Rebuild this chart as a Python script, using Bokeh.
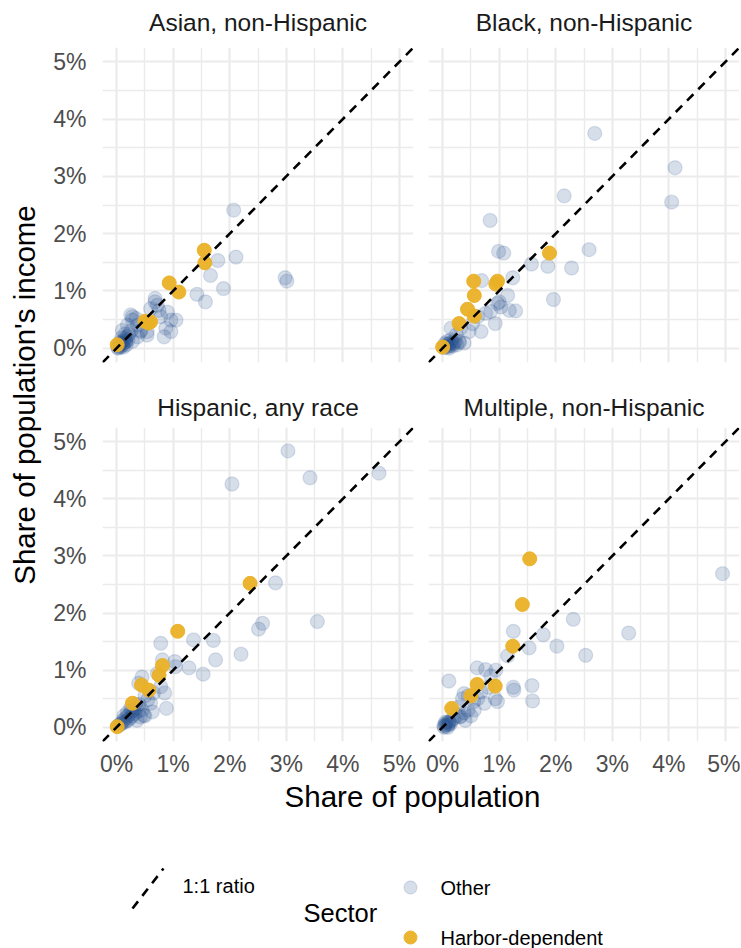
import math
from bokeh.plotting import figure
from bokeh.layouts import row, column
from bokeh.models import Range1d, FixedTicker, Slope
from bokeh.core.properties import value
from bokeh.embed import file_html
from bokeh.resources import INLINE

# ---------------- data (share of population %, share of income %) ----------------
panel_titles = ["Asian, non-Hispanic", "Black, non-Hispanic",
                "Hispanic, any race", "Multiple, non-Hispanic"]

asian_other_x = [0.02, 0.04, 0.05, 0.07, 0.08, 0.10, 0.11, 0.13, 0.14, 0.16, 0.18, 0.06, 0.12, 0.20,
                 0.22, 0.09, 0.03, 0.17, 0.25, 0.15, 0.19, 0.10, 0.28, 0.25, 0.37, 0.43, 0.37, 0.16,
                 0.28, 0.54, 0.28, 0.34, 0.42, 0.54, 0.60, 0.68, 0.72, 0.75, 0.78, 0.90, 0.96, 1.05,
                 0.87, 0.96, 0.84, 0.68, 1.42, 1.57, 1.66, 1.79, 1.89, 2.07, 2.11, 2.98, 3.01]
asian_other_y = [0.01, 0.03, 0.06, 0.02, 0.08, 0.05, 0.12, 0.09, 0.16, 0.11, 0.20, 0.10, 0.02, 0.14,
                 0.24, 0.18, 0.00, 0.06, 0.30, 0.25, 0.40, 0.31, 0.49, 0.58, 0.40, 0.31, 0.20, 0.14,
                 0.12, 0.23, 0.55, 0.52, 0.29, 0.29, 0.69, 0.81, 0.75, 0.66, 0.55, 0.63, 0.49, 0.49,
                 0.35, 0.29, 0.20, 0.87, 0.94, 0.81, 1.27, 1.53, 1.04, 2.41, 1.59, 1.23, 1.17]
asian_harbor_x = [0.01, 0.50, 0.56, 0.60, 0.93, 1.10, 1.55, 1.56]
asian_harbor_y = [0.06, 0.47, 0.44, 0.46, 1.14, 0.98, 1.71, 1.49]

black_other_x = [0.02, 0.05, 0.07, 0.09, 0.10, 0.12, 0.14, 0.16, 0.18, 0.20, 0.08, 0.22, 0.25, 0.04,
                 0.15, 0.30, 0.11, 0.15, 0.38, 0.29, 0.24, 0.32, 0.68, 0.93, 0.62, 0.76, 0.97, 1.03,
                 1.18, 1.29, 1.15, 1.00, 0.85, 0.47, 0.53, 0.69, 1.24, 0.99, 1.08, 0.84, 1.57, 1.86,
                 2.28, 1.96, 2.59, 2.15, 2.69, 4.11, 4.05]
black_other_y = [0.01, 0.04, 0.02, 0.07, 0.03, 0.08, 0.05, 0.10, 0.04, 0.08, 0.12, 0.12, 0.06, 0.08,
                 0.15, 0.10, 0.00, 0.35, 0.09, 0.12, 0.23, 0.35, 0.29, 0.43, 0.55, 0.61, 0.78, 0.72,
                 0.66, 0.65, 0.92, 0.81, 0.64, 0.29, 0.43, 1.18, 1.23, 1.69, 1.66, 2.23, 1.47, 1.43,
                 1.40, 0.85, 1.72, 2.66, 3.75, 3.15, 2.55]
black_harbor_x = [0.00, 0.29, 0.44, 0.56, 0.56, 0.55, 0.97, 0.94, 1.89]
black_harbor_y = [0.02, 0.43, 0.68, 0.56, 0.92, 1.17, 1.17, 1.12, 1.66]

hisp_other_x = [0.02, 0.05, 0.08, 0.10, 0.12, 0.14, 0.16, 0.18, 0.20, 0.22, 0.24, 0.26, 0.28, 0.30,
                0.32, 0.35, 0.38, 0.40, 0.13, 0.19, 0.25, 0.33, 0.45, 0.50, 0.42, 0.36, 0.48, 0.63,
                0.60, 0.78, 0.85, 0.88, 0.72, 0.45, 0.39, 0.50, 0.55, 0.65, 0.78, 0.81, 1.03, 1.04,
                1.28, 1.36, 1.53, 1.71, 1.75, 2.20, 2.51, 2.58, 2.81, 3.55, 2.04, 3.03, 3.42, 4.64]
hisp_other_y = [0.02, 0.04, 0.06, 0.10, 0.08, 0.14, 0.10, 0.18, 0.12, 0.22, 0.16, 0.28, 0.20, 0.30,
                0.24, 0.34, 0.28, 0.40, 0.20, 0.26, 0.34, 0.40, 0.30, 0.20, 0.18, 0.12, 0.21, 0.27,
                0.42, 0.71, 0.60, 0.33, 0.94, 0.88, 0.77, 0.55, 0.48, 0.60, 1.47, 1.18, 1.15, 1.06,
                1.04, 1.53, 0.93, 1.52, 1.18, 1.28, 1.72, 1.82, 2.53, 1.85, 4.26, 4.84, 4.37, 4.45]
hisp_harbor_x = [0.01, 0.28, 0.44, 0.57, 0.75, 0.81, 1.08, 2.36]
hisp_harbor_y = [0.01, 0.42, 0.74, 0.65, 0.91, 1.08, 1.68, 2.52]

mult_other_x = [0.02, 0.04, 0.06, 0.08, 0.10, 0.12, 0.05, 0.14, 0.03, 0.16, 0.09, 0.11, 0.20, 0.25,
                0.30, 0.32, 0.38, 0.45, 0.56, 0.50, 0.40, 0.28, 0.38, 0.45, 0.35, 0.55, 0.62, 0.74,
                0.93, 0.97, 0.68, 0.80, 0.61, 0.76, 0.94, 0.85, 0.11, 1.25, 1.26, 1.58, 1.59, 1.15,
                1.25, 1.53, 1.78, 2.02, 2.31, 2.53, 3.29, 4.95]
mult_other_y = [0.02, 0.05, 0.03, 0.08, 0.04, 0.10, 0.09, 0.06, 0.00, 0.12, 0.00, 0.07, 0.15, 0.20,
                0.18, 0.19, 0.25, 0.30, 0.30, 0.20, 0.12, 0.35, 0.59, 0.55, 0.50, 0.45, 0.50, 0.42,
                0.50, 0.45, 0.62, 0.70, 1.04, 1.01, 1.00, 0.90, 0.81, 0.70, 0.65, 0.73, 0.46, 1.25,
                1.68, 1.39, 1.62, 1.42, 1.89, 1.26, 1.65, 2.69]
mult_harbor_x = [0.16, 0.50, 0.61, 0.93, 1.24, 1.41, 1.54]
mult_harbor_y = [0.33, 0.55, 0.75, 0.72, 1.42, 2.15, 2.95]

tick_vals = [0, 1, 2, 3, 4, 5]
tick_labels = ["0%", "1%", "2%", "3%", "4%", "5%"]
minor_vals = [0.5, 1.5, 2.5, 3.5, 4.5]
limit_lo, limit_hi = 0.0, 5.0

sector_labels = ["Other", "Harbor-dependent"]
ratio_label = "1:1 ratio"
legend_title = "Sector"
x_title = "Share of population"
y_title = "Share of population's income"

# ---------------- styles ----------------
FONT = "Liberation Sans"
OTHER = "#26508F"
HARBOR = "#EAB127"
GRID = "#EBEBEB"
expand = 0.05 * (limit_hi - limit_lo)
LO, HI = limit_lo - expand, limit_hi + expand
PW, PH = 311, 315
YLAB_W = 48
LEFT_MBL, LEFT_MBR, RIGHT_MBL, RIGHT_MBR = 54, 7, 8, 1
TOP_STRIP, TOP_MBB, BOT_STRIP, BOT_MBB = 47, 26, 39, 37

override = dict(zip(tick_vals, tick_labels))


def blank(w, h):
    f = figure(width=w, height=h, x_range=Range1d(0, w), y_range=Range1d(h, 0),
               output_backend="svg", toolbar_location=None,
               x_axis_location=None, y_axis_location=None,
               min_border_left=0, min_border_right=0, min_border_top=0, min_border_bottom=0)
    f.grid.visible = False
    f.outline_line_color = None
    f.background_fill_color = "white"
    f.border_fill_color = "white"
    return f


def panel(ox, oy, hx, hy, left, bottom):
    mbl = LEFT_MBL if left else RIGHT_MBL
    mbr = LEFT_MBR if left else RIGHT_MBR
    mbb = BOT_MBB if bottom else TOP_MBB
    p = figure(width=mbl + PW + mbr, height=PH + mbb,
               x_range=Range1d(LO, HI), y_range=Range1d(LO, HI),
               output_backend="svg", toolbar_location=None,
               x_axis_location="below" if bottom else None,
               y_axis_location="left" if left else None,
               min_border_left=mbl, min_border_right=mbr,
               min_border_top=0, min_border_bottom=mbb)
    p.outline_line_color = None
    p.background_fill_color = "white"
    p.border_fill_color = "white"

    xt = FixedTicker(ticks=tick_vals, minor_ticks=minor_vals)
    yt = FixedTicker(ticks=tick_vals, minor_ticks=minor_vals)
    p.xgrid.ticker = xt
    p.ygrid.ticker = yt
    for g in (p.xgrid, p.ygrid):
        g.grid_line_color = GRID
        g.grid_line_width = 2.2
        g.minor_grid_line_color = GRID
        g.minor_grid_line_width = 1.4
    axes = []
    if bottom:
        p.xaxis.ticker = xt
        p.xaxis.major_label_standoff = 9
        axes.append(p.xaxis)
    if left:
        p.yaxis.ticker = yt
        p.yaxis.major_label_standoff = 16
        axes.append(p.yaxis)
    for ax in axes:
        ax.major_label_overrides = override
        ax.axis_line_color = None
        ax.major_tick_line_color = None
        ax.minor_tick_line_color = None
        ax.major_tick_out = 0
        ax.major_tick_in = 0
        ax.minor_tick_out = 0
        ax.minor_tick_in = 0
        ax.major_label_text_font = FONT
        ax.major_label_text_font_size = "23px"
        ax.major_label_text_color = "#4D4D4D"

    p.scatter(x=ox, y=oy, size=14, fill_color=OTHER, fill_alpha=0.19,
              line_color=OTHER, line_alpha=0.15, line_width=1.3)
    p.scatter(x=hx, y=hy, size=14, fill_color=HARBOR, fill_alpha=0.95,
              line_color=HARBOR, line_alpha=0.95, line_width=1.0)
    p.add_layout(Slope(gradient=1, y_intercept=0, line_color="black",
                       line_width=2.6, line_dash="9 7"))
    return p


def strip(title, left, h, ty):
    mbl = LEFT_MBL if left else RIGHT_MBL
    mbr = LEFT_MBR if left else RIGHT_MBR
    s = blank(mbl + PW + mbr, h)
    s.text(x=[mbl + PW / 2], y=[ty], text=[title], text_font=value(FONT),
           text_font_size=value("24.5px"), text_color="#1A1A1A",
           text_align="center", text_baseline="middle")
    return s


tl = panel(asian_other_x, asian_other_y, asian_harbor_x, asian_harbor_y, True, False)
tr = panel(black_other_x, black_other_y, black_harbor_x, black_harbor_y, False, False)
bl = panel(hisp_other_x, hisp_other_y, hisp_harbor_x, hisp_harbor_y, True, True)
br = panel(mult_other_x, mult_other_y, mult_harbor_x, mult_harbor_y, False, True)

tl_s = strip(panel_titles[0], True, TOP_STRIP, 22)
tr_s = strip(panel_titles[1], False, TOP_STRIP, 22)
bl_s = strip(panel_titles[2], True, BOT_STRIP, 19)
br_s = strip(panel_titles[3], False, BOT_STRIP, 19)

GRID_H = TOP_STRIP + tl.height + BOT_STRIP + bl.height
TOTAL_W = YLAB_W + tl.width + tr.width

# y-axis title, centred on the panel area
frame_top = TOP_STRIP
frame_bottom = TOP_STRIP + tl.height + BOT_STRIP + PH
ylab = blank(YLAB_W, GRID_H)
ylab.text(x=[24], y=[(frame_top + frame_bottom) / 2], text=[y_title], angle=math.pi / 2,
          text_font=value(FONT), text_font_size=value("29.5px"), text_color="#000000",
          text_align="center", text_baseline="middle")

# bottom: x title + legend
BH = 948 - GRID_H
bot = blank(TOTAL_W, BH)
bot.text(x=[412], y=[17], text=[x_title], text_font=value(FONT),
         text_font_size=value("29.5px"), text_color="#000000",
         text_align="center", text_baseline="middle")
# 1:1 ratio key
bot.line(x=[132, 163], y=[129, 89], line_color="black", line_width=2.6, line_dash="9 7")
bot.text(x=[182], y=[106], text=[ratio_label], text_font=value(FONT),
         text_font_size=value("20px"), text_color="#000000",
         text_align="left", text_baseline="middle")
bot.text(x=[303], y=[133], text=[legend_title], text_font=value(FONT),
         text_font_size=value("25.5px"), text_color="#000000",
         text_align="left", text_baseline="middle")
bot.scatter(x=[410], y=[108], size=13, fill_color=OTHER, fill_alpha=0.19,
            line_color=OTHER, line_alpha=0.15, line_width=1.3)
bot.scatter(x=[410], y=[158], size=13, fill_color=HARBOR, fill_alpha=0.95,
            line_color=HARBOR, line_alpha=0.95)
bot.text(x=[440, 440], y=[108, 158], text=sector_labels, text_font=value(FONT),
         text_font_size=value("20px"), text_color="#000000",
         text_align="left", text_baseline="middle")

grid = column(row(tl_s, tr_s), row(tl, tr), row(bl_s, br_s), row(bl, br))
layout = column(row(ylab, grid), bot)

with open("out.html", "w") as fh:
    fh.write(file_html(layout, INLINE))
